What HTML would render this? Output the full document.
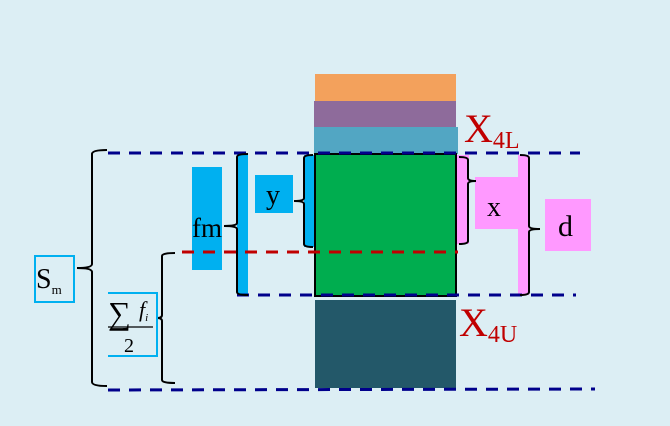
<!DOCTYPE html>
<html><head><meta charset="utf-8"><style>
html,body{margin:0;padding:0;background:#dceef4;}
svg{display:block;font-family:"Liberation Serif",serif;}
</style></head><body>
<svg width="670" height="426" viewBox="0 0 670 426" xmlns="http://www.w3.org/2000/svg">
<rect width="670" height="426" fill="#dceef4"/>
<rect x="315" y="74" width="141" height="27" fill="#f3a15c"/>
<rect x="314" y="101" width="142" height="26" fill="#8e6b9b"/>
<rect x="314" y="127" width="144" height="27" fill="#52a6c3"/>
<rect x="315" y="154" width="141" height="142" fill="#00ad4f" stroke="#000" stroke-width="2"/>
<rect x="315" y="300" width="141" height="88" fill="#235869"/>
<rect x="192" y="167" width="30" height="103" fill="#00b0f0"/>
<rect x="237" y="154" width="11" height="141" fill="#00b0f0"/>
<rect x="255" y="175" width="38" height="38" fill="#00b0f0"/>
<rect x="304" y="155" width="10" height="92" fill="#00b0f0"/>
<rect x="457" y="155" width="12" height="89" fill="#ff99ff"/>
<rect x="475" y="177" width="44" height="52" fill="#ff99ff"/>
<rect x="518" y="155" width="11" height="140" fill="#ff99ff"/>
<rect x="545" y="199" width="46" height="52" fill="#ff99ff"/>
<g stroke-width="3" stroke-dasharray="12,9" fill="none">
<line x1="108" y1="153" x2="580" y2="153" stroke="#00008b"/>
<line x1="237" y1="295" x2="576" y2="295" stroke="#00008b"/>
<line x1="108" y1="390" x2="595" y2="389" stroke="#00008b"/>
<line x1="182" y1="252" x2="458" y2="252" stroke="#c00000"/>
</g>
<g stroke="#000" stroke-width="2" fill="none">
<path d="M107,150 Q92,150 92,154 L92,264 Q92,268 77,268 Q92,268 92,272 L92,382 Q92,386 107,386"/>
<path d="M175,253 Q162,253 162,256 L162,315 Q162,318 157,318 Q162,318 162,321 L162,380 Q162,383 175,383"/>
<path d="M248,154 Q237,154 237,157 L237,223 Q237,226 224,226 Q237,226 237,229 L237,292 Q237,295 248,295"/>
<path d="M313,155 Q304,155 304,158 L304,198 Q304,201 294,201 Q304,201 304,204 L304,244 Q304,247 313,247"/>
<path d="M459,157 Q468,157 468,160 L468,178 Q468,181 476,181 Q468,181 468,184 L468,241 Q468,244 459,244"/>
<path d="M520,155 Q529,155 529,158 L529,226 Q529,229 540,229 Q529,229 529,232 L529,292 Q529,295 520,295"/>
</g>
<rect x="35" y="256" width="39" height="46" fill="none" stroke="#00b0f0" stroke-width="2"/>
<path d="M108,293 L157,293 L157,356 L108,356" fill="none" stroke="#00b0f0" stroke-width="2"/>
<text x="36" y="288" font-size="28">S<tspan font-size="13" dy="6">m</tspan></text>
<text x="108" y="324" font-size="32">∑</text>
<text x="139" y="317" font-size="22" font-style="italic">f<tspan font-size="11" dy="4">i</tspan></text>
<line x1="108" y1="327" x2="153" y2="327" stroke="#000" stroke-width="1.2"/>
<text x="124" y="352" font-size="20">2</text>
<text x="192" y="237" font-size="27">fm</text>
<text x="266" y="204" font-size="28">y</text>
<text x="487" y="216" font-size="28">x</text>
<text x="558" y="236" font-size="30">d</text>
<text x="464" y="142" font-size="40" fill="#c00000">X<tspan font-size="24" dy="6">4L</tspan></text>
<text x="459" y="336" font-size="40" fill="#c00000">X<tspan font-size="24" dy="6">4U</tspan></text>
</svg>
</body></html>
